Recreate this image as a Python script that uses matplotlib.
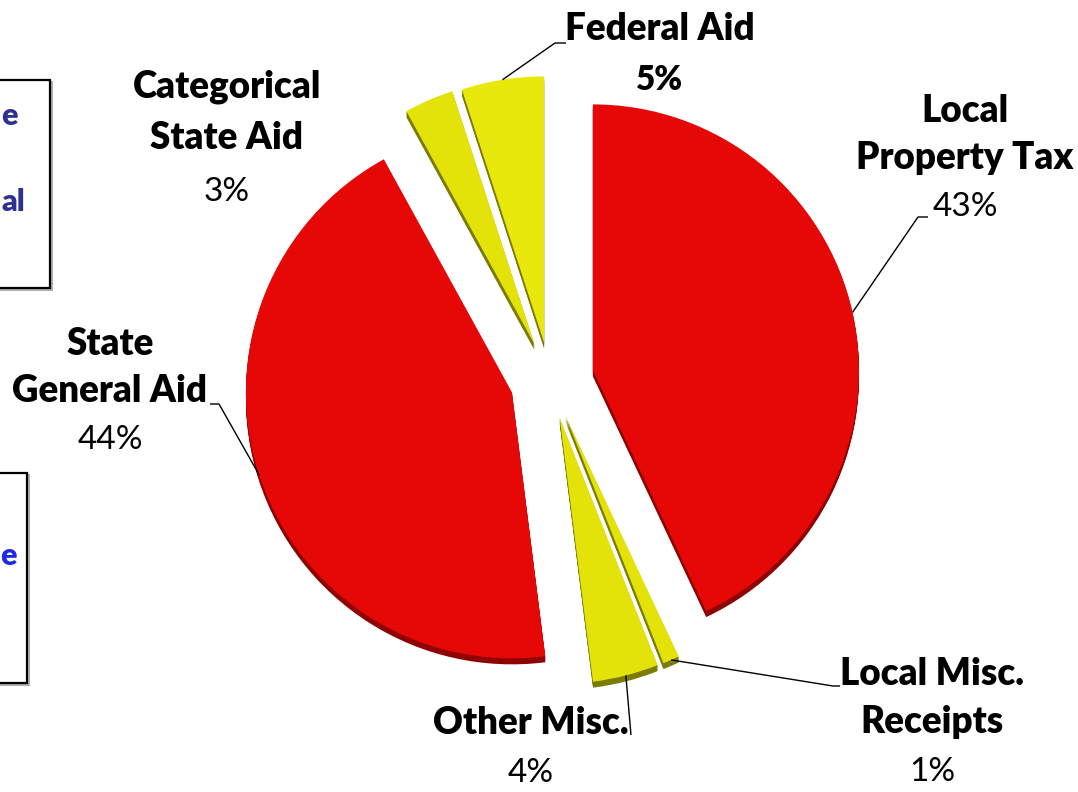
import numpy as np
import matplotlib
matplotlib.use("Agg")
import matplotlib.pyplot as plt
from matplotlib.patches import Rectangle

# Revenue sources (share of total, percent)
categories = ["Local Property Tax", "Local Misc. Receipts", "Other Misc.",
              "State General Aid", "Categorical State Aid", "Federal Aid"]
shares = [43, 1, 4, 44, 3, 5]
label_titles = [["Local", "Property Tax"], ["Local Misc.", "Receipts"], ["Other Misc."],
                ["State", "General Aid"], ["Categorical", "State Aid"], ["Federal Aid"]]
pct_labels = ["43%", "1%", "4%", "44%", "3%", "5%"]

W, H = 1078, 792
FONT = "Lato"

face_colors = ["#E60707", "#E3E30A", "#E3E30A", "#E60707", "#E3E30A", "#E8E80C"]
side_colors = ["#8E0303", "#7C7C05", "#7C7C05", "#8E0303", "#7C7C05", "#7C7C05"]
# slice offsets, in pixels (axes are laid out in pixel units)
explode = [44, 39, 39, 40, 39, 38]

fig = plt.figure(figsize=(W / 100, H / 100), dpi=100)
ax = fig.add_axes([0, 0, 1, 1])

cx, cy, R = 550, H - 380, 266

# extruded side of the slices, stacked a few pixels below the top face
for k in range(6, 0, -1):
    ax.pie(shares, explode=explode, colors=side_colors, startangle=90,
           counterclock=False, radius=R, center=(cx, cy - k), frame=True,
           wedgeprops=dict(linewidth=0))
wedges, _ = ax.pie(shares, explode=explode, colors=face_colors, startangle=90,
                   counterclock=False, radius=R, center=(cx, cy), frame=True,
                   wedgeprops=dict(linewidth=0))
ax.set_xlim(0, W)
ax.set_ylim(0, H)
ax.set_aspect("equal")
ax.axis("off")


def py(y):
    return H - y


# label layout: x center, baseline of first line, line step, leader elbow and end
layout = {
    0: dict(x=965, y0=122, step=47, elbow=(918, 217), end=(928, 217)),
    1: dict(x=932, y0=685, step=48, elbow=(833, 686), end=(840, 686)),
    2: dict(x=531, y0=734, step=48, elbow=(631, 735), end=(631, 735)),
    3: dict(x=110, y0=355, step=47, elbow=(219, 404), end=(210, 404)),
    4: dict(x=227, y0=97, step=52, elbow=None, end=None),
    5: dict(x=660, y0=40, step=50, elbow=(555, 43), end=(566, 43)),
}

for i, w in enumerate(wedges):
    L = layout[i]
    lines = label_titles[i]
    for j, t in enumerate(lines):
        ax.text(L["x"], py(L["y0"] + j * L["step"]), t, ha="center", va="baseline",
                fontsize=26.5, fontweight="heavy", family=FONT, color="black")
    pct_y = L["y0"] + len(lines) * L["step"]
    ax.text(L["x"], py(pct_y), pct_labels[i], ha="center", va="baseline",
            fontsize=24, fontweight="heavy" if i == 5 else "normal",
            family=FONT, color="black")
    if L["elbow"] is not None:
        mid = np.deg2rad((w.theta1 + w.theta2) / 2)
        wx, wy = w.center
        anchor = (wx + w.r * np.cos(mid), wy + w.r * np.sin(mid))
        ex, ey = L["elbow"]
        tx, ty = L["end"]
        ax.plot([anchor[0], ex, tx], [anchor[1], py(ey), py(ty)], color="black",
                lw=1.0, solid_capstyle="butt", zorder=5)

# side text boxes, partly outside the canvas
for (right, top, bottom) in [(50, 80, 288), (27, 473, 683)]:
    shadow = Rectangle((-200 + 2, py(bottom) - 2), right + 200, bottom - top,
                       fill=False, edgecolor="#B0B0B0", lw=1.5, zorder=1)
    box = Rectangle((-200, py(bottom)), right + 200, bottom - top,
                    fill=True, facecolor="white", edgecolor="black", lw=1.6, zorder=2)
    ax.add_patch(shadow)
    ax.add_patch(box)

ax.text(1, py(125), "e", ha="left", va="baseline", fontsize=22,
        fontweight="heavy", family=FONT, color="#2E3192", zorder=3)
ax.text(1, py(211), "al", ha="left", va="baseline", fontsize=22,
        fontweight="heavy", family=FONT, color="#2E3192", zorder=3)
ax.text(0, py(565), "e", ha="left", va="baseline", fontsize=22,
        fontweight="heavy", family=FONT, color="#1E2BE0", zorder=3,
        clip_on=True)

fig.savefig("out.png", dpi=100, facecolor="white")
